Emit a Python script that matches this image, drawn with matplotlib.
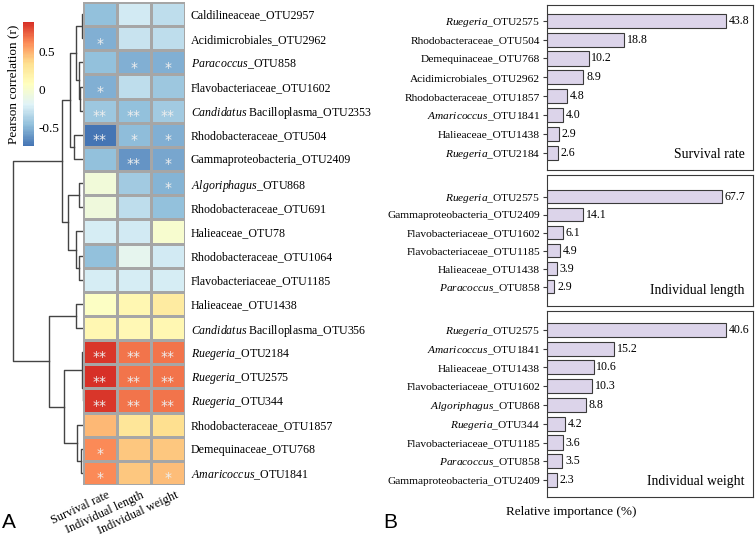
import numpy as np
import matplotlib
matplotlib.use("Agg")
import matplotlib.pyplot as plt
from matplotlib.colors import LinearSegmentedColormap
from matplotlib.transforms import ScaledTranslation

plt.rcParams['font.family'] = 'Liberation Serif'
plt.rcParams['mathtext.fontset'] = 'custom'
plt.rcParams['mathtext.rm'] = 'Liberation Serif'
plt.rcParams['mathtext.it'] = 'Liberation Serif:italic'
plt.rcParams['axes.unicode_minus'] = False

# ---------------- data: heatmap (A) ----------------
otus = ["Caldilineaceae_OTU2957", "Acidimicrobiales_OTU2962", "Paracoccus_OTU858",
        "Flavobacteriaceae_OTU1602", "Candidatus Bacilloplasma_OTU2353",
        "Rhodobacteraceae_OTU504", "Gammaproteobacteria_OTU2409", "Algoriphagus_OTU868",
        "Rhodobacteraceae_OTU691", "Halieaceae_OTU78", "Rhodobacteraceae_OTU1064",
        "Flavobacteriaceae_OTU1185", "Halieaceae_OTU1438", "Candidatus Bacilloplasma_OTU356",
        "Ruegeria_OTU2184", "Ruegeria_OTU2575", "Ruegeria_OTU344",
        "Rhodobacteraceae_OTU1857", "Demequinaceae_OTU768", "Amaricoccus_OTU1841"]
traits = ["Survival rate", "Individual length", "Individual weight"]

r_survival = [-0.45, -0.52, -0.45, -0.52, -0.42, -0.74, -0.45, -0.05, -0.06, -0.22,
              -0.45, -0.22, 0.05, 0.15, 0.86, 0.89, 0.86, 0.48, 0.62, 0.62]
r_length = [-0.25, -0.27, -0.52, -0.3, -0.45, -0.47, -0.62, -0.4, -0.3, -0.25,
            -0.15, -0.22, 0.15, 0.13, 0.68, 0.68, 0.68, 0.3, 0.42, 0.42]
r_weight = [-0.3, -0.3, -0.52, -0.42, -0.4, -0.52, -0.55, -0.5, -0.45, 0.0,
            -0.25, -0.22, 0.25, 0.15, 0.68, 0.68, 0.68, 0.35, 0.42, 0.45]

sig_survival = ["", "*", "", "*", "**", "**", "", "", "", "", "", "", "", "",
                "**", "**", "**", "", "*", "*"]
sig_length = ["", "", "*", "", "**", "*", "**", "", "", "", "", "", "", "",
              "**", "**", "**", "", "", ""]
sig_weight = ["", "", "*", "", "**", "*", "*", "*", "", "", "", "", "", "",
              "**", "**", "**", "", "", "*"]

# row clustering: (height, left, right), leaves are row indices
row_tree = (70,
            (21,
             (13,
              (7, (1.5, 0, 1), (4, 2, (3, 3, 4))),
              (9, 5, 6)),
             (15,
              (4, 7, 8),
              (7, 9, (4, 10, 11)))),
            (34,
             (7, 12, 13),
             (19,
              (1, 14, (0.5, 15, 16)),
              (6, 17, (2, 18, 19)))))

# ---------------- data: relative importance (B) ----------------
surv_otus = ["Ruegeria_OTU2575", "Rhodobacteraceae_OTU504", "Demequinaceae_OTU768",
             "Acidimicrobiales_OTU2962", "Rhodobacteraceae_OTU1857", "Amaricoccus_OTU1841",
             "Halieaceae_OTU1438", "Ruegeria_OTU2184"]
surv_imp = [43.8, 18.8, 10.2, 8.9, 4.8, 4.0, 2.9, 2.6]

len_otus = ["Ruegeria_OTU2575", "Gammaproteobacteria_OTU2409", "Flavobacteriaceae_OTU1602",
            "Flavobacteriaceae_OTU1185", "Halieaceae_OTU1438", "Paracoccus_OTU858"]
len_imp = [67.7, 14.1, 6.1, 4.9, 3.9, 2.9]

wt_otus = ["Ruegeria_OTU2575", "Amaricoccus_OTU1841", "Halieaceae_OTU1438",
           "Flavobacteriaceae_OTU1602", "Algoriphagus_OTU868", "Ruegeria_OTU344",
           "Flavobacteriaceae_OTU1185", "Paracoccus_OTU858", "Gammaproteobacteria_OTU2409"]
wt_imp = [40.6, 15.2, 10.6, 10.3, 8.8, 4.2, 3.6, 3.5, 2.3]

italic_genera = {"Ruegeria", "Paracoccus", "Amaricoccus", "Algoriphagus", "Candidatus"}


def fmt(name):
    genus = name.split("_")[0].split(" ")[0]
    if genus in italic_genera:
        return r"$\it{" + genus + "}$" + name[len(genus):]
    return name


W, H = 755, 540


def box(x0, y0, x1, y1):
    return [x0 / W, 1 - y1 / H, (x1 - x0) / W, (y1 - y0) / H]


fig = plt.figure(figsize=(W / 100, H / 100), dpi=100)

# ---------------- heatmap ----------------
vals = np.array([r_survival, r_length, r_weight]).T
sigs = np.array([sig_survival, sig_length, sig_weight]).T
cmap = LinearSegmentedColormap.from_list(
    "rdylbu", ["#4575B4", "#91BFDB", "#E0F3F8", "#FFFFBF", "#FEE090", "#FC8D59", "#D73027"], N=100)

ax = fig.add_axes(box(83, 2, 185, 485))
mesh = ax.pcolormesh(vals, cmap=cmap, vmin=vals.min(), vmax=vals.max(),
                     edgecolors="#a6a6a6", linewidth=0.8)
ax.set_xlim(0, 3)
ax.set_ylim(20, 0)
for i in range(vals.shape[0]):
    for j in range(vals.shape[1]):
        if sigs[i, j]:
            ax.text(j + 0.5, i + 0.72, sigs[i, j], ha="center", va="center",
                    color="#eeeeee", fontsize=10, family="DejaVu Sans")
for s in ax.spines.values():
    s.set_visible(False)
ax.yaxis.tick_right()
ax.set_yticks(np.arange(20) + 0.5)
ax.set_yticklabels([fmt(o) for o in otus], fontsize=8.6)
ax.tick_params(axis="y", length=0, pad=4)
ax.set_xticks([])
shift = ScaledTranslation(7 / 100, -4 / 100, fig.dpi_scale_trans)
for j, t in enumerate(traits):
    ax.text(j + 0.5, 20, t, rotation=25, ha="right", va="top", rotation_mode="anchor",
            fontsize=8.8, transform=ax.transData + shift)

# ---------------- dendrogram ----------------
dax = fig.add_axes(box(12, 2, 83, 485))


def draw(node):
    if not isinstance(node, tuple):
        return node + 0.5, 0
    h, left, right = node
    yl, hl = draw(left)
    yr, hr = draw(right)
    dax.plot([hl, h, h, hr], [yl, yl, yr, yr], color="#444444", lw=1.0)
    return (yl + yr) / 2, h


draw(row_tree)
dax.set_xlim(71, 0)
dax.set_ylim(20, 0)
dax.axis("off")

# ---------------- colour legend ----------------
cax = fig.add_axes(box(23, 22, 34, 146))
cb = fig.colorbar(mesh, cax=cax)
cb.outline.set_visible(False)
cb.set_ticks([-0.5, 0, 0.5])
cb.set_ticklabels(["-0.5", "0", "0.5"])
cax.tick_params(length=0, labelsize=9.5, pad=3)
cax.yaxis.set_label_position("left")
cax.set_ylabel("Pearson correlation (r)", fontsize=9.5, labelpad=3)

# ---------------- relative importance bars ----------------
panels = [
    (surv_otus, surv_imp, "Survival rate", (5, 170), 50.4, (-0.83, 0.9)),
    (len_otus, len_imp, "Individual length", (175, 306), 79.8, (-1.2, 1.07)),
    (wt_otus, wt_imp, "Individual weight", (311, 497), 46.8, (-1.0, 0.9)),
]
for names, imp, title, (y0, y1), xmax, (ptop, pbot) in panels:
    bx = fig.add_axes(box(547, y0, 753, y1))
    pos = np.arange(len(names))
    bx.barh(pos, imp, height=0.75, color="#dcd4ea", edgecolor="#3a3a3a", linewidth=0.8)
    for p, v in zip(pos, imp):
        bx.annotate(f"{v:.1f}", (v, p), xytext=(2, 0), textcoords="offset points",
                    va="center", ha="left", fontsize=8.6)
    bx.set_xlim(0, xmax)
    bx.set_ylim(len(names) - 1 + pbot, ptop)
    bx.set_yticks(pos)
    bx.set_yticklabels([fmt(n) for n in names], fontsize=8.2)
    bx.set_xticks([])
    bx.tick_params(axis="y", length=3, width=0.8, color="#3a3a3a", pad=2)
    for s in bx.spines.values():
        s.set_color("#3a3a3a")
        s.set_linewidth(0.8)
    bx.annotate(title, (1, 0), xycoords="axes fraction", xytext=(-6, 11),
                textcoords="offset points", ha="right", va="center", fontsize=9.8)

fig.text(571 / W, 1 - 512 / H, "Relative importance (%)", ha="center", va="center", fontsize=9.5)

fig.text(2 / W, 1 - 523 / H, "A", fontsize=15, family="Liberation Sans", va="center")
fig.text(383 / W, 1 - 523 / H, "B", fontsize=15, family="Liberation Sans", va="center")

fig.savefig("out.png", dpi=100)
